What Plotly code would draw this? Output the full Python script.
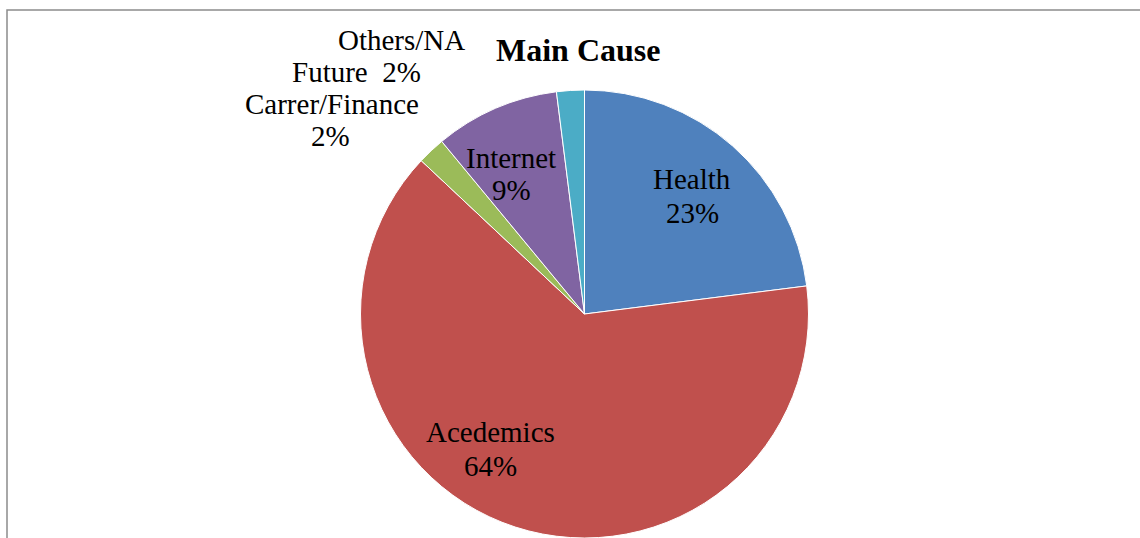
import plotly.graph_objects as go

# ---- data ----
categories = ["Health", "Acedemics", "Carrer/Finance", "Internet", "Others/NA Future"]
values = [23, 64, 2, 9, 2]
colors = ["#4F81BD", "#C0504D", "#9BBB59", "#8064A2", "#4BACC6"]
title_text = "Main Cause"

# ---- layout helpers (pixels -> paper) ----
W, H = 1140, 538
CX, R = 584.5, 224


def px(x):
    return x / W


def py(y):
    return 1 - y / H


total = sum(values)
pct = [f"{round(v * 100 / total)}%" for v in values]

# label lines (text built from data) and their pixel positions
label_lines = {
    "Health": [(categories[0], 692, 179), (pct[0], 692, 213)],
    "Acedemics": [(categories[1], 490, 432), (pct[1], 490, 466)],
    "Carrer/Finance": [(categories[2], 332, 104), (pct[2], 330, 136)],
    "Internet": [(categories[3], 511, 158), (pct[3], 511, 190)],
    "Others/NA Future": [("Others/NA", 401, 40), ("Future  " + pct[4], 356, 72)],
}

fig = go.Figure(
    go.Pie(
        labels=categories,
        values=values,
        sort=False,
        direction="clockwise",
        rotation=0,
        marker=dict(colors=colors, line=dict(color="white", width=1)),
        textinfo="none",
        hoverinfo="label+percent",
        showlegend=False,
        domain=dict(x=[px(CX - R), px(CX + R)], y=[0, 2 * R / H]),
    )
)

font_family = "Liberation Serif, Times New Roman, serif"
annotations = []
for cat in categories:
    for txt, x, y in label_lines[cat]:
        annotations.append(
            dict(
                text=txt,
                x=px(x),
                y=py(y),
                xref="paper",
                yref="paper",
                xanchor="center",
                yanchor="middle",
                showarrow=False,
                font=dict(family=font_family, size=29, color="black"),
            )
        )

annotations.append(
    dict(
        text=f"<b>{title_text}</b>",
        x=px(578),
        y=py(50),
        xref="paper",
        yref="paper",
        xanchor="center",
        yanchor="middle",
        showarrow=False,
        font=dict(family=font_family, size=32, color="black"),
    )
)

fig.update_layout(
    width=W,
    height=H,
    margin=dict(l=0, r=0, t=0, b=0),
    paper_bgcolor="white",
    plot_bgcolor="white",
    annotations=annotations,
    shapes=[
        dict(
            type="rect",
            xref="paper",
            yref="paper",
            x0=px(7),
            x1=1.2,
            y0=-0.2,
            y1=py(10),
            line=dict(color="#8c8c8c", width=1.5),
            fillcolor="rgba(0,0,0,0)",
            layer="below",
        )
    ],
)

fig.write_html("out.html", config={"displayModeBar": False})
